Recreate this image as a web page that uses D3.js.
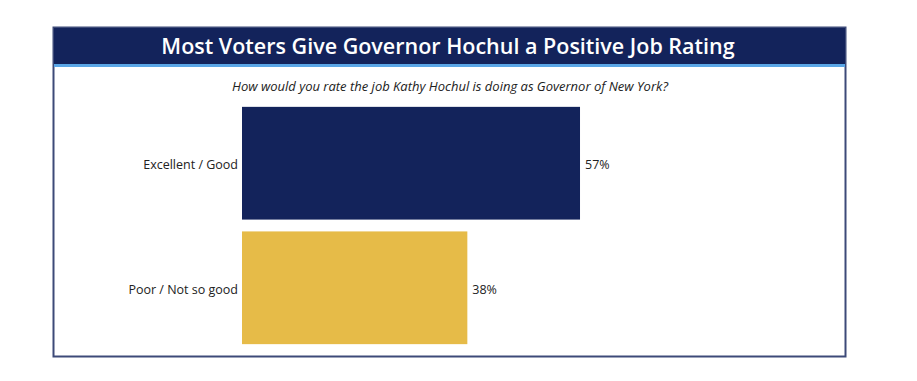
<!DOCTYPE html>
<html>
<head>
<meta charset="utf-8">
<script src="https://cdn.jsdelivr.net/npm/d3@7"></script>
<style>
  body { margin: 0; background: #fff; }
  svg { font-family: "Open Sans", "Noto Sans", sans-serif; }
</style>
</head>
<body>
<div id="chart"></div>
<script>
const title = "Most Voters Give Governor Hochul a Positive Job Rating";
const subtitle = "How would you rate the job Kathy Hochul is doing as Governor of New York?";
const categories = ["Excellent / Good", "Poor / Not so good"];
const values = [57, 38];
const colors = ["#13235b", "#e6bb48"];

const width = 917, height = 381;

const svg = d3.select("#chart")
  .append("svg")
  .attr("width", width)
  .attr("height", height);

// frame
svg.append("rect")
  .attr("x", 53.5).attr("y", 27.5)
  .attr("width", 792).attr("height", 329)
  .attr("fill", "#fff")
  .attr("stroke", "#3d4a78")
  .attr("stroke-width", 2);

// title bar
svg.append("rect")
  .attr("x", 54).attr("y", 28)
  .attr("width", 791).attr("height", 36)
  .attr("fill", "#13235b");
svg.append("rect")
  .attr("x", 54).attr("y", 64)
  .attr("width", 791).attr("height", 3)
  .attr("fill", "#5aa6e6");

svg.append("text")
  .attr("x", 448).attr("y", 54)
  .attr("text-anchor", "middle")
  .attr("fill", "#fff")
  .attr("font-size", 21.5)
  .attr("font-weight", 600)
  .text(title);

svg.append("text")
  .attr("x", 450).attr("y", 91)
  .attr("text-anchor", "middle")
  .attr("fill", "#222")
  .attr("font-size", 13)
  .attr("font-style", "italic")
  .text(subtitle);

const x = d3.scaleLinear()
  .domain([0, 100])
  .range([242, 835]);

const y = d3.scaleBand()
  .domain(categories)
  .range([101, 350])
  .paddingInner(0.095)
  .paddingOuter(0.047);

const g = svg.append("g");

g.selectAll("rect.bar")
  .data(categories)
  .join("rect")
  .attr("class", "bar")
  .attr("x", x(0))
  .attr("y", d => y(d))
  .attr("width", (d, i) => x(values[i]) - x(0))
  .attr("height", y.bandwidth())
  .attr("fill", (d, i) => colors[i]);

g.selectAll("text.val")
  .data(categories)
  .join("text")
  .attr("class", "val")
  .attr("x", (d, i) => x(values[i]) + 5)
  .attr("y", d => y(d) + y.bandwidth() / 2)
  .attr("dy", "0.5em")
  .attr("font-size", 12.5)
  .attr("fill", "#222")
  .text((d, i) => values[i] + "%");

const axis = d3.axisLeft(y).tickSize(0).tickPadding(4);
svg.append("g")
  .attr("transform", "translate(" + x(0) + ",0)")
  .call(axis)
  .call(s => s.select(".domain").remove())
  .selectAll("text")
  .attr("dy", "0.5em")
  .attr("font-size", 12.5)
  .attr("font-family", "\"Open Sans\", \"Noto Sans\", sans-serif")
  .attr("fill", "#222");
</script>
</body>
</html>
